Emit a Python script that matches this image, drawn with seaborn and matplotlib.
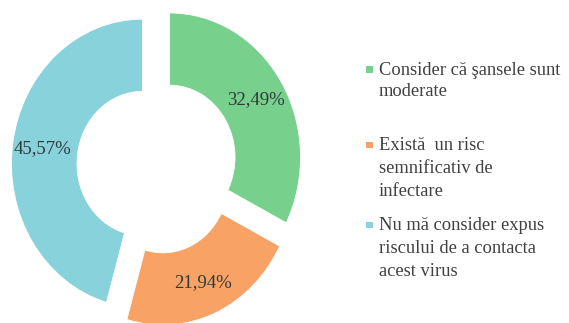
import matplotlib
matplotlib.use("Agg")
import numpy as np
import matplotlib.pyplot as plt
from matplotlib.patches import Rectangle
import seaborn as sns

# Survey answers: perceived risk of infection
categories = [
    "Consider că şansele sunt\nmoderate",
    "Există  un risc\nsemnificativ de\ninfectare",
    "Nu mă consider expus\nriscului de a contacta\nacest virus",
]
shares = [32.49, 21.94, 45.57]
share_labels = ["32,49%", "21,94%", "45,57%"]
colors = ["#78D08D", "#F9A266", "#88D2DB"]

sns.set_theme(style="white")
plt.rcParams["font.family"] = ["Liberation Serif", "DejaVu Serif"]

W, H = 569, 323
fig = plt.figure(figsize=(W / 100, H / 100), dpi=100)
ax = fig.add_axes([0, 0, 1, 1])

wedges, _ = ax.pie(
    shares,
    colors=colors,
    startangle=90,
    counterclock=False,
    explode=[0.112] * len(shares),
    radius=1.0,
    wedgeprops=dict(width=0.5, linewidth=0.6, edgecolor="#ffffff"),
)
# percentage in the middle of each ring segment
for w, lab in zip(wedges, share_labels):
    t = np.deg2rad((w.theta1 + w.theta2) / 2)
    cx, cy = w.center
    ax.text(cx + 0.77 * np.cos(t), cy + 0.77 * np.sin(t), lab,
            ha="center", va="center", fontsize=13.5, color="#2f3b3b")

# ring centre at about (157, 166) px, unit radius ~131 px wide and ~144 px tall
ax.set_aspect("auto")
ax.set_xlim(-157 / 131, (W - 157) / 131)
ax.set_ylim(-(H - 165.8) / 144.4, 165.8 / 144.4)
ax.axis("off")

# legend with a square key beside each wrapped label
entry_tops = [62, 137, 217]
spacings = [1.3, 1.45, 1.45]
for lab, col, top, ls in zip(categories, colors, entry_tops, spacings):
    fig.add_artist(Rectangle((366 / W, 1 - (top + 11) / H), 6.5 / W, 6.5 / H,
                             transform=fig.transFigure, color=col, lw=0))
    fig.text(379 / W, 1 - top / H, lab, ha="left", va="top",
             fontsize=13.3, color="#404040", linespacing=ls)

fig.savefig("out.png", dpi=100, facecolor="white")
